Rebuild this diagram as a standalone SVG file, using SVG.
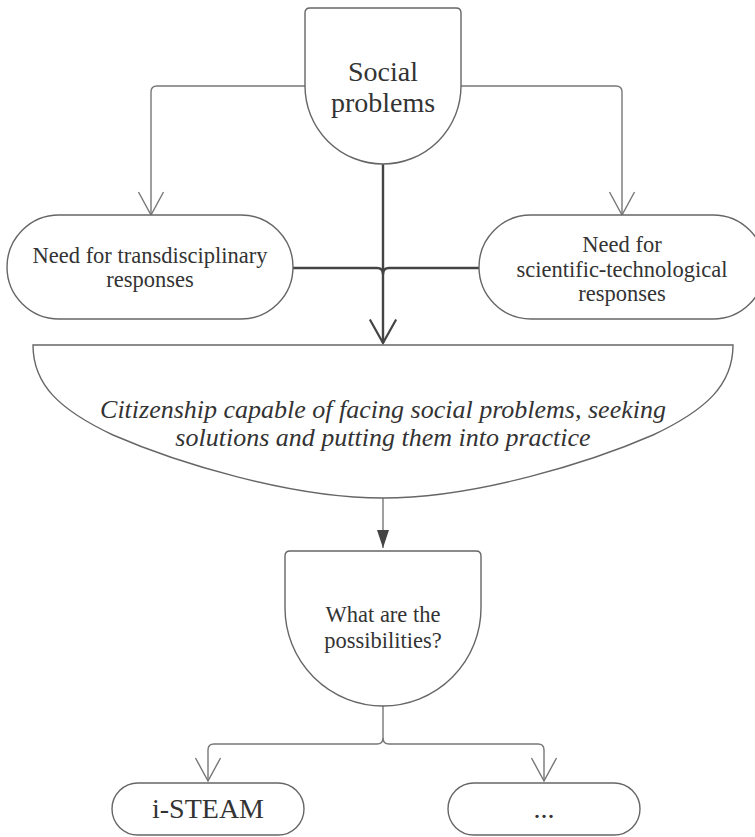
<svg xmlns="http://www.w3.org/2000/svg" width="755" height="837" viewBox="0 0 755 837">
<style>
.node{fill:#fff;stroke:#666;stroke-width:1.4}
.t{font-family:"Liberation Serif","Times New Roman",serif;fill:#333;text-anchor:middle}
.thin{fill:none;stroke:#777;stroke-width:1.4}
.thick{fill:none;stroke:#444;stroke-width:2.4}
</style>
<defs>
<marker id="openArrow" markerUnits="userSpaceOnUse" markerWidth="30" markerHeight="30" viewBox="-26 -15 30 30" refX="0" refY="0" orient="auto" overflow="visible">
<path d="M-23,-12.5 L0,0 L-23,12.5" fill="none" stroke="#777" stroke-width="1.4"/>
</marker>
<marker id="openArrowThick" markerUnits="userSpaceOnUse" markerWidth="30" markerHeight="30" viewBox="-27 -16 30 32" refX="0" refY="0" orient="auto" overflow="visible">
<path d="M-25,-14 L0,0 L-25,14" fill="none" stroke="#444" stroke-width="2.4"/>
</marker>
<marker id="filledArrow" markerUnits="userSpaceOnUse" markerWidth="20" markerHeight="14" viewBox="-19 -7 20 14" refX="0" refY="0" orient="auto" overflow="visible">
<path d="M-18,-6 L0,0 L-18,6 Z" fill="#444"/>
</marker>
</defs>

<g id="connectors">
<path class="thin" d="M305,86 H157 Q151,86 151,92 V215" marker-end="url(#openArrow)"/>
<path class="thin" d="M461,86 H616 Q622,86 622,92 V215" marker-end="url(#openArrow)"/>
<path class="thick" d="M383,164 V343" marker-end="url(#openArrowThick)"/>
<path class="thick" d="M293,268 H377 Q383,268 383,274"/>
<path class="thick" d="M479,268 H389 Q383,268 383,274"/>
<path class="thin" d="M383,498 V548" stroke="#555" marker-end="url(#filledArrow)"/>
<path class="thin" d="M383,706 V738 Q383,744 377,744 H214 Q208,744 208,750 V781" marker-end="url(#openArrow)"/>
<path class="thin" d="M383,738 Q383,744 389,744 H538 Q544,744 544,750 V781" marker-end="url(#openArrow)"/>
</g>

<g id="social-problems">
<path class="node" d="M305,86 V13 Q305,8 310,8 H456 Q461,8 461,13 V86 A78,78 0 0 1 383,164 A78,78 0 0 1 305,86 Z"/>
<text class="t" x="383" y="81" font-size="28">Social</text>
<text class="t" x="383" y="112" font-size="28">problems</text>
</g>

<g id="transdisciplinary">
<rect class="node" x="7" y="215" width="286" height="104" rx="52" ry="52"/>
<text class="t" x="150" y="263" font-size="22.5">Need for transdisciplinary</text>
<text class="t" x="150" y="287" font-size="22.5">responses</text>
</g>

<g id="scientific-technological">
<rect class="node" x="479" y="215" width="286" height="104" rx="52" ry="52"/>
<text class="t" x="622" y="252" font-size="22.5">Need for</text>
<text class="t" x="622" y="277" font-size="22.5">scientific-technological</text>
<text class="t" x="622" y="301" font-size="22.5">responses</text>
</g>

<g id="citizenship">
<path class="node" d="M33,345 H733 C733,385 706,410 653,435 C591,462 476,498 383,498 C290,498 175,462 113,435 C60,410 33,385 33,345 Z"/>
<text class="t" x="383" y="418" font-size="26" font-style="italic">Citizenship capable of facing social problems, seeking</text>
<text class="t" x="383" y="446" font-size="26" font-style="italic">solutions and putting them into practice</text>
</g>

<g id="possibilities">
<path class="node" d="M285,608 V556 Q285,551 290,551 H476 Q481,551 481,556 V608 A98,98 0 0 1 383,706 A98,98 0 0 1 285,608 Z"/>
<text class="t" x="383" y="622" font-size="22.5">What are the</text>
<text class="t" x="383" y="648" font-size="22.5">possibilities?</text>
</g>

<g id="i-steam">
<rect class="node" x="112" y="783" width="192" height="52" rx="26" ry="26"/>
<text class="t" x="208" y="818" font-size="28">i-STEAM</text>
</g>

<g id="other">
<rect class="node" x="448" y="783" width="192" height="52" rx="26" ry="26"/>
<text class="t" x="544" y="818" font-size="28">...</text>
</g>
</svg>
